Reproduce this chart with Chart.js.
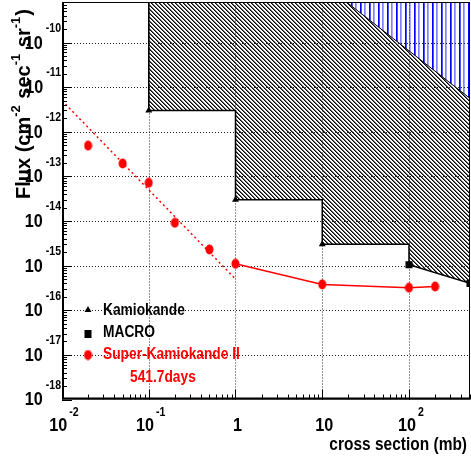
<!DOCTYPE html>
<html>
<head>
<meta charset="utf-8">
<script src="https://cdn.jsdelivr.net/npm/chart.js@4.4.1/dist/chart.umd.min.js"></script>
<style>
  html, body { margin: 0; padding: 0; background: #fff; }
  #wrap { width: 471px; height: 464px; }
</style>
</head>
<body>
<div id="wrap"><canvas id="fluxChart" width="471" height="464"></canvas></div>
<script>
// axis ranges (log-log)
const xMin = 0.01, xMax = 505;
const yMin = 1e-18, yMax = 8.1e-10;

// Kamiokande limits
const kamX = [0.1, 1, 10];
const kamY = [3.0e-12, 3.0e-14, 3.0e-15];

// MACRO limits
const macroX = [100, 505];
const macroY = [1.05e-15, 4.0e-16];

// Super-Kamiokande II (541.7 days)
const skX = [0.02, 0.05, 0.1, 0.2, 0.5, 1, 10, 100, 200];
const skY = [4.9e-13, 1.95e-13, 7.2e-14, 9.1e-15, 2.3e-15, 1.1e-15, 3.8e-16, 3.2e-16, 3.4e-16];
const skLineFrom = 5; // solid line joins points from 1 mb on

// red dashed guide
const dashX = [0.01, 1];
const dashY = [5.0e-12, 5.0e-16];

// excluded region (black hatch), lower edge
const exclX = [0.1, 0.1, 1, 1, 10, 10, 100, 100, 505];
const exclY = [yMax, 3.0e-12, 3.0e-12, 3.0e-14, 3.0e-14, 3.0e-15, 3.0e-15, 1.05e-15, 4.0e-16];

// blue region, lower edge
const blueX = [19, 505];
const blueY = [yMax, 5.6e-12];

// tick labels
const xTicks = [0.01, 0.1, 1, 10, 100];
const xTickLabels = [['10', '-2'], ['10', '-1'], ['1', ''], ['10', ''], ['10', '2']];
const yTicks = [1e-18, 1e-17, 1e-16, 1e-15, 1e-14, 1e-13, 1e-12, 1e-11, 1e-10];
const yTickLabels = ['-18', '-17', '-16', '-15', '-14', '-13', '-12', '-11', '-10'];

const FONT = '"Liberation Sans", Arial, sans-serif';

function pts(xs, ys) {
  return xs.map((x, i) => ({ x: x, y: ys[i] }));
}

// hatch patterns
function blackHatch() {
  const c = document.createElement('canvas');
  c.width = 4; c.height = 4;
  const g = c.getContext('2d');
  for (let i = 0; i < 4; i++) {
    g.fillStyle = '#000';
    g.fillRect(i, i, 1, 1);
    g.fillStyle = '#666';
    g.fillRect((i + 1) % 4, i, 1, 1);
  }
  return g.createPattern(c, 'repeat');
}

function blueHatch() {
  const c = document.createElement('canvas');
  c.width = 9; c.height = 4;
  const g = c.getContext('2d');
  g.fillStyle = '#fff';
  g.fillRect(0, 0, 9, 4);
  g.fillStyle = '#0000ff';
  g.fillRect(0, 0, 1, 4);
  g.fillStyle = '#5050ff';
  g.fillRect(1, 0, 1, 4);
  g.fillStyle = '#8080ff';
  g.fillRect(4, 0, 1, 4);
  g.fillStyle = '#a8a8ff';
  g.fillRect(5, 0, 1, 4);
  return g.createPattern(c, 'repeat');
}

// red ellipse marker
function redDot() {
  const c = document.createElement('canvas');
  c.width = 9; c.height = 11;
  const g = c.getContext('2d');
  g.fillStyle = '#ff0000';
  g.beginPath();
  g.ellipse(4.5, 5.5, 4, 5, 0, 0, Math.PI * 2);
  g.fill();
  return c;
}
const dotImg = redDot();

// condensed bold text
function txt(ctx, s, x, y, size, sx, align, color) {
  ctx.save();
  ctx.font = 'bold ' + size + 'px ' + FONT;
  ctx.fillStyle = color || '#000';
  ctx.textBaseline = 'middle';
  const w = ctx.measureText(s).width * sx;
  let x0 = x;
  if (align === 'right') x0 = x - w;
  else if (align === 'center') x0 = x - w / 2;
  ctx.translate(x0, y);
  ctx.scale(sx, 1);
  ctx.fillText(s, 0, 0);
  ctx.restore();
  return w;
}
function txtWidth(ctx, s, size, sx) {
  ctx.save();
  ctx.font = 'bold ' + size + 'px ' + FONT;
  const w = ctx.measureText(s).width * sx;
  ctx.restore();
  return w;
}

const gridPlugin = {
  id: 'gridPlugin',
  beforeDatasetsDraw(chart) {
    const ctx = chart.ctx, a = chart.chartArea;
    const xs = chart.scales.x, ys = chart.scales.y;
    ctx.save();
    ctx.strokeStyle = '#222';
    ctx.lineWidth = 1;
    ctx.setLineDash([1, 2]);
    xTicks.slice(1).forEach(v => {
      const px = Math.round(xs.getPixelForValue(v)) + 0.5;
      ctx.beginPath(); ctx.moveTo(px, a.bottom); ctx.lineTo(px, a.top); ctx.stroke();
    });
    yTicks.slice(1).forEach(v => {
      const py = Math.round(ys.getPixelForValue(v)) + 0.5;
      ctx.beginPath(); ctx.moveTo(a.left, py); ctx.lineTo(a.right, py); ctx.stroke();
    });
    ctx.restore();
  },
  afterDraw(chart) {
    const ctx = chart.ctx, a = chart.chartArea;
    const xs = chart.scales.x, ys = chart.scales.y;
    ctx.save();
    // frame
    ctx.strokeStyle = '#000';
    ctx.lineWidth = 1;
    ctx.strokeRect(a.left + 0.5, a.top + 0.5, a.right - a.left - 1, a.bottom - a.top - 1);
    ctx.lineWidth = 2;
    ctx.beginPath();
    ctx.moveTo(a.left + 1, a.top); ctx.lineTo(a.left + 1, a.bottom - 1); ctx.lineTo(a.right, a.bottom - 1);
    ctx.stroke();
    // minor / major ticks
    ctx.lineWidth = 1;
    for (let n = -2; n <= 2; n++) {
      for (let k = 1; k <= 9; k++) {
        const v = k * Math.pow(10, n);
        if (v < xMin || v > xMax) continue;
        const px = Math.round(xs.getPixelForValue(v)) + 0.5;
        const len = k === 1 ? 10 : 5;
        ctx.beginPath(); ctx.moveTo(px, a.bottom); ctx.lineTo(px, a.bottom - len); ctx.stroke();
      }
    }
    for (let n = -18; n <= -10; n++) {
      for (let k = 1; k <= 9; k++) {
        const v = k * Math.pow(10, n);
        if (v < yMin || v > yMax) continue;
        const py = Math.round(ys.getPixelForValue(v)) + 0.5;
        const len = k === 1 ? 10 : 5;
        ctx.beginPath(); ctx.moveTo(a.left, py); ctx.lineTo(a.left + len, py); ctx.stroke();
      }
    }
    // y tick labels
    yTicks.forEach((v, i) => {
      const py = ys.getPixelForValue(v);
      const ew = txtWidth(ctx, yTickLabels[i], 12, 0.88);
      txt(ctx, yTickLabels[i], 61, py - 14, 12, 0.88, 'right');
      txt(ctx, '10', 61 - ew - 3, py + 1, 18, 0.9, 'right');
    });
    // x tick labels
    xTicks.forEach((v, i) => {
      const px = xs.getPixelForValue(v);
      const base = xTickLabels[i][0], ex = xTickLabels[i][1];
      const bw = txtWidth(ctx, base, 18, 0.9);
      const ew = ex ? txtWidth(ctx, ex, 12, 0.88) + 2 : 0;
      const x0 = px - (bw + ew) / 2 + 2;
      txt(ctx, base, x0, 426, 18, 0.9, 'left');
      if (ex) txt(ctx, ex, x0 + bw + 2, 413, 12, 0.88, 'left');
    });
    // axis titles
    txt(ctx, 'cross section (mb)', 467, 445, 18, 0.86, 'right');
    ctx.save();
    ctx.translate(30, 199);
    ctx.rotate(-Math.PI / 2);
    ctx.fillStyle = '#000';
    ctx.textBaseline = 'alphabetic';
    const parts = [['Flux (cm', 0], ['-2', 1], [' sec', 0], ['-1', 1], [' sr', 0], ['-1', 1], [')', 0]];
    let cx = 0;
    parts.forEach(p => {
      const sup = p[1] === 1;
      ctx.font = 'bold ' + (sup ? 13 : 20) + 'px ' + FONT;
      ctx.fillText(p[0], cx, sup ? -10 : 0);
      cx += ctx.measureText(p[0]).width + (sup ? 1 : 0);
    });
    ctx.restore();
    // legend
    ctx.fillStyle = '#000';
    ctx.beginPath();
    ctx.moveTo(88, 306); ctx.lineTo(91.5, 312); ctx.lineTo(84.5, 312); ctx.closePath(); ctx.fill();
    ctx.fillRect(84.5, 330, 7, 8);
    ctx.drawImage(dotImg, 88 - 4.5, 355 - 5.5);
    txt(ctx, 'Kamiokande', 103, 311, 16, 0.86, 'left');
    txt(ctx, 'MACRO', 103, 333, 16, 0.86, 'left');
    txt(ctx, 'Super-Kamiokande II', 103, 355, 16, 0.86, 'left', '#ff0000');
    txt(ctx, '541.7days', 130, 378, 16, 0.86, 'left', '#ff0000');
    ctx.restore();
  }
};

const ctx = document.getElementById('fluxChart').getContext('2d');
const fluxChart = new Chart(ctx, {
  type: 'scatter',
  data: {
    datasets: [
      {
        label: 'Super-Kamiokande II',
        data: pts(skX, skY),
        pointStyle: dotImg,
        pointRadius: 5,
        showLine: false
      },
      {
        label: 'SK line',
        data: pts(skX.slice(skLineFrom), skY.slice(skLineFrom)),
        showLine: true,
        borderColor: '#ff0000',
        borderWidth: 1.5,
        pointRadius: 0
      },
      {
        label: 'guide',
        data: pts(dashX, dashY),
        showLine: true,
        borderColor: '#ff0000',
        borderWidth: 1.5,
        borderDash: [2, 3],
        pointRadius: 0
      },
      {
        label: 'Kamiokande',
        data: pts(kamX, kamY),
        pointStyle: 'triangle',
        pointRadius: 4,
        backgroundColor: '#000',
        borderColor: '#000',
        borderWidth: 0,
        showLine: false
      },
      {
        label: 'MACRO',
        data: pts(macroX, macroY),
        pointStyle: 'rect',
        pointRadius: 5,
        backgroundColor: '#000',
        borderColor: '#000',
        borderWidth: 0,
        showLine: false
      },
      {
        label: 'blue region',
        data: pts(blueX, blueY),
        showLine: true,
        fill: 'end',
        backgroundColor: blueHatch(),
        borderColor: '#000',
        borderWidth: 1,
        pointRadius: 0
      },
      {
        label: 'excluded',
        data: pts(exclX, exclY),
        showLine: true,
        fill: 'end',
        backgroundColor: blackHatch(),
        borderColor: '#000',
        borderWidth: 1.5,
        pointRadius: 0
      }
    ]
  },
  options: {
    responsive: false,
    animation: false,
    layout: { autoPadding: false, padding: { left: 62, right: 1, top: 2, bottom: 64.5 } },
    scales: {
      x: { type: 'logarithmic', min: xMin, max: xMax, display: false },
      y: { type: 'logarithmic', min: yMin, max: yMax, display: false }
    },
    plugins: {
      legend: { display: false },
      tooltip: { enabled: false },
      filler: { drawTime: 'beforeDatasetsDraw' }
    }
  },
  plugins: [gridPlugin]
});
</script>
</body>
</html>
